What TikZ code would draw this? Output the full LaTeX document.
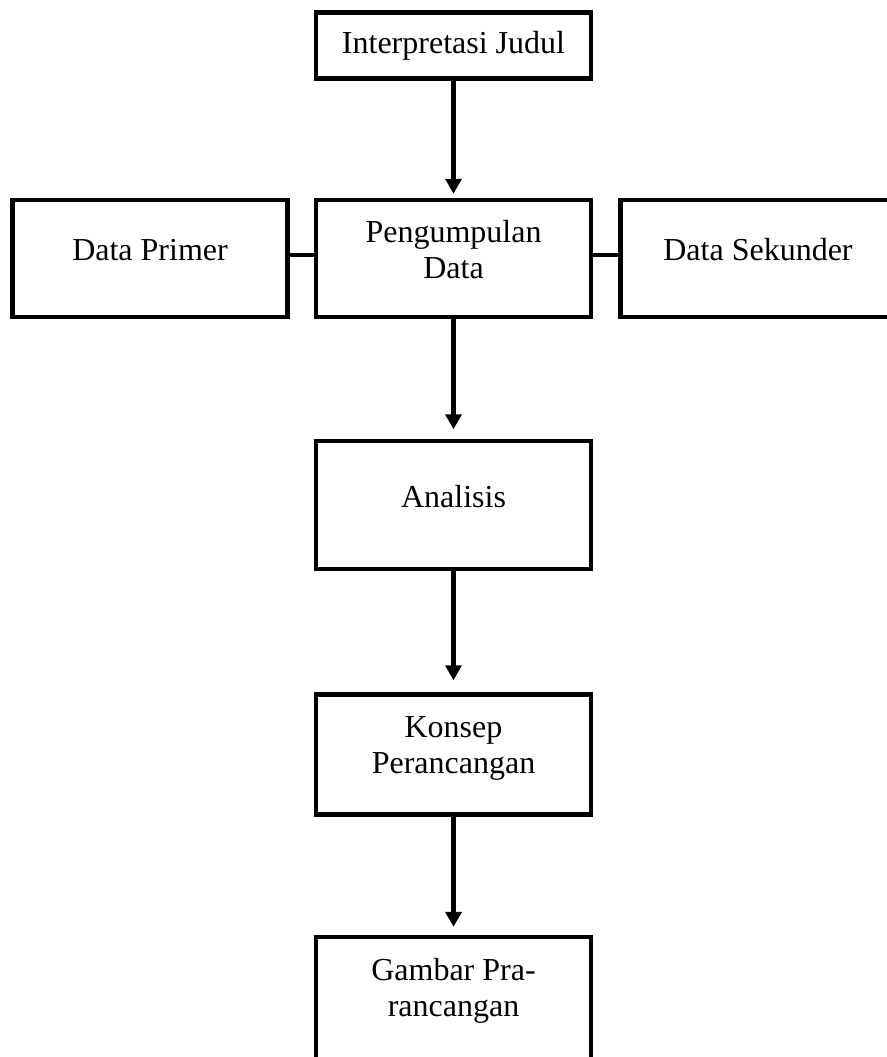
\documentclass[tikz,border=0pt]{standalone}
\usepackage{fontspec}
\setmainfont{Liberation Serif}
\usepackage{tikz}
\usetikzlibrary{positioning, arrows.meta}
\tikzstyle{box} = [rectangle, minimum width=275pt, minimum height=117pt, text centered, align=center, draw=black, line width=4.5pt, text depth=18pt, font=\fontsize{32}{36}\selectfont]
\tikzstyle{arrow} = [line width=4.5pt,-{Triangle[width=16pt,length=15pt]}]
\tikzstyle{link} = [line width=4.5pt]

\begin{document}
\begin{tikzpicture}
		\useasboundingbox (0,0) rectangle (886pt,-1057pt);
		\node[box, minimum height=66pt, text depth=7pt] (judul) at (453.5pt,-45.5pt) {Interpretasi Judul};
		\node[box, below=117pt of judul] (kumpul) {Pengumpulan\\Data};
		\node[box, left=24pt of kumpul] (primer) {Data Primer};
		\node[box, right=25pt of kumpul] (sekunder) {Data Sekunder};
		\node[box, minimum height=128pt, below=119.5pt of kumpul] (analisis) {Analisis};
		\node[box, minimum height=120pt, below=121pt of analisis] (konsep) {Konsep\\Perancangan};
		\node[box, minimum height=140pt, text depth=40pt, below=118pt of konsep] (gambar) {Gambar Pra-\\rancangan};
		\draw[arrow, shorten >= 4pt] (judul) -- (kumpul);
		\draw[arrow, shorten >= 9.5pt] (kumpul) -- (analisis);
		\draw[arrow, shorten >= 12pt] (analisis) -- (konsep);
		\draw[arrow, shorten >= 8pt] (konsep) -- (gambar);
		\draw[link] ([yshift=3.5pt]primer.east) -- ([yshift=3.5pt]kumpul.west);
		\draw[link] ([yshift=3.5pt]kumpul.east) -- ([yshift=3.5pt]sekunder.west);
	\end{tikzpicture}
\end{document}
